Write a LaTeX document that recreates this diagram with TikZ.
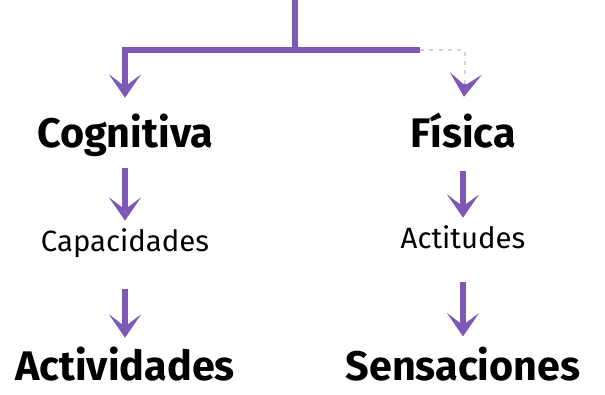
\documentclass[tikz,border=0pt]{standalone}
\usepackage{fontspec}
\setmainfont{Fira Sans}
\usetikzlibrary{arrows.meta, positioning, calc}
\definecolor{lila}{HTML}{7E58B6}

\tikzset{
  rama/.style={draw=lila, line width=3.8pt},
  flecha/.style={rama, -{Stealth[length=17.5pt, width=24pt, inset=9pt]}},
  titulo/.style={font=\fontsize{31}{36}\selectfont\bfseries, anchor=base},
  detalle/.style={font=\fontsize{22}{26}\selectfont, anchor=base}
}

\begin{document}
\begin{tikzpicture}[x=0.75pt, y=-0.75pt]
    \useasboundingbox (0,0) rectangle (605,395);

    % nivel 1
    \node[titulo] (cog) at (125,148) {Cognitiva};
    \node[titulo] (fis) at (463,148) {Física};
    % nivel 2
    \node[detalle] (cap) at (125,251) {Capacidades};
    \node[detalle] (act) at (463,248) {Actitudes};
    % nivel 3
    \node[titulo] (acv) at (125,380) {Actividades};
    \node[titulo] (sen) at (463,380) {Sensaciones};

    \coordinate (raiz) at (295,0);
    \coordinate (split) at (295,50);
    \coordinate (corte) at (420,50);
    \coordinate (pre) at (465,84);

    \draw[rama] (raiz) -- (split);
    \draw[flecha, shorten >=9pt] (split) -| (cog.north);
    \draw[rama] (split) -- (corte);
    \draw[rama, draw=lila!30, line width=1.5pt, dash pattern=on 3pt off 4pt] (corte) -| (pre);
    \draw[flecha, shorten >=9pt] (pre) -- (fis.north);

    \draw[flecha, shorten <=4.5pt, shorten >=2pt] (cog) -- (cap);
    \draw[flecha, shorten <=13.5pt, shorten >=2pt] (fis) -- (act);
    \draw[flecha, shorten <=20pt, shorten >=3pt] (cap) -- (acv);
    \draw[flecha, shorten <=22pt, shorten >=4pt] (act) -- (sen);
\end{tikzpicture}
\end{document}
